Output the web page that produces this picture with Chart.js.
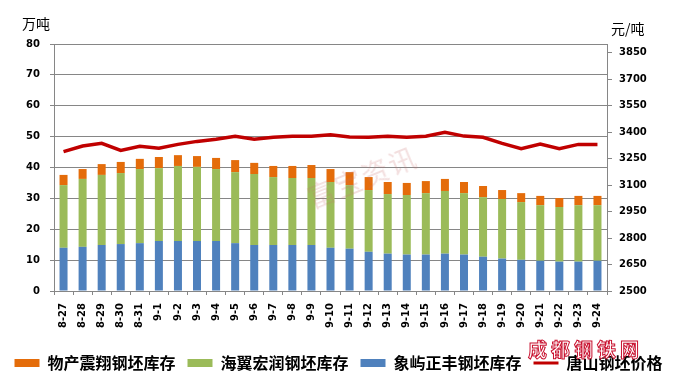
<!DOCTYPE html>
<html><head><meta charset="utf-8">
<script src="https://cdn.jsdelivr.net/npm/chart.js@4/dist/chart.umd.min.js"></script>
<style>
html,body{margin:0;padding:0;background:#fff;overflow:hidden;}
#wrap{position:relative;width:677px;height:375px;overflow:hidden;}
canvas{display:block;}
.unit{position:absolute;font-family:"Noto Sans CJK SC";font-size:14px;color:#000;line-height:1;white-space:nowrap;}
.wm{position:absolute;left:301px;top:180px;font-family:"Noto Sans CJK SC";font-size:27px;color:rgba(200,110,110,0.22);transform:rotate(-22deg);transform-origin:left top;white-space:nowrap;pointer-events:none;letter-spacing:2px;}
.logo{position:absolute;left:528px;top:339px;font-family:"Noto Sans CJK SC";font-weight:bold;font-size:19px;color:#fff;-webkit-text-stroke:1px #c8102e;letter-spacing:4px;line-height:1.1;white-space:nowrap;}
</style></head><body>
<div id="wrap">
<canvas id="c" width="677" height="375"></canvas>
<div class="unit" style="left:22px;top:16px;">万吨</div>
<div class="unit" style="left:611px;top:21px;">元/吨</div>
<div class="wm">富宝资讯</div>
<div class="logo">成都钢铁网</div>
</div>
<script>
const categories = ['8-27','8-28','8-29','8-30','8-31','9-1','9-2','9-3','9-4','9-5','9-6','9-7','9-8','9-9','9-10','9-11','9-12','9-13','9-14','9-15','9-16','9-17','9-18','9-19','9-20','9-21','9-22','9-23','9-24'];
const xiangyu = [14.0,14.3,14.9,15.2,15.5,16.2,16.2,16.2,16.2,15.5,14.9,14.9,14.9,14.9,14.0,13.7,12.7,12.1,11.8,11.8,12.1,11.8,11.1,10.5,10.1,9.8,9.5,9.5,9.8];
const haiyi = [20.3,22.0,22.7,23.0,24.0,23.6,24.3,24.0,23.3,23.0,23.0,22.0,21.7,21.7,21.3,20.6,20.0,19.3,19.3,19.9,20.3,19.9,19.3,19.3,18.7,18.0,17.7,18.3,18.0];
const wuchan = [3.3,3.2,3.5,3.6,3.3,3.6,3.5,3.5,3.6,3.9,3.6,3.6,3.9,4.2,4.2,4.2,4.2,3.9,3.9,3.9,3.9,3.6,3.6,2.9,2.9,3.0,2.9,3.0,3.0];
const price = [3290,3322,3337,3297,3320,3309,3331,3348,3360,3377,3360,3371,3377,3377,3386,3373,3371,3377,3371,3377,3399,3378,3371,3337,3307,3333,3307,3331,3331];
const leftTicks = {min:0, max:80, step:10};
const rightRange = {min:2500, max:3900};
const rightTickValues = [2500,2650,2800,2950,3100,3250,3400,3550,3700,3850];

const AXIS = '#868686';
const tickFont = {family:'DejaVu Sans', size:10, weight:'bold'};
const legendRank = [2,1,0,3];

const lineLegendPlugin = {
  id:'lineLegend',
  afterDraw(chart){
    const lg = chart.legend;
    if(!lg || !lg.legendItems) return;
    lg.legendItems.forEach((it,i)=>{
      if(it.datasetIndex===3){
        const hb = lg.legendHitBoxes[i];
        const y = hb.top + hb.height/2;
        const ctx = chart.ctx;
        ctx.save();
        ctx.strokeStyle = '#C00000';
        ctx.lineWidth = 3;
        ctx.beginPath();
        ctx.moveTo(hb.left, y);
        ctx.lineTo(hb.left+25, y);
        ctx.stroke();
        ctx.restore();
      }
    });
  }
};

new Chart(document.getElementById('c'), {
  type:'bar',
  data:{
    labels:categories,
    datasets:[
      {label:'象屿正丰钢坯库存', data:xiangyu, backgroundColor:'#4F81BD', yAxisID:'y', stack:'s', barPercentage:0.42, categoryPercentage:1, order:1},
      {label:'海翼宏润钢坯库存', data:haiyi, backgroundColor:'#9BBB59', yAxisID:'y', stack:'s', barPercentage:0.42, categoryPercentage:1, order:1},
      {label:'物产震翔钢坯库存', data:wuchan, backgroundColor:'#E46C0A', yAxisID:'y', stack:'s', barPercentage:0.42, categoryPercentage:1, order:1},
      {type:'line', label:'唐山钢坯价格', data:price, borderColor:'#C00000', backgroundColor:'#C00000', borderWidth:3.5, pointRadius:0, tension:0, yAxisID:'y1', order:0}
    ]
  },
  options:{
    responsive:false,
    animation:false,
    layout:{padding:{top:44, left:0, right:0, bottom:-6}},
    plugins:{
      tooltip:{enabled:false},
      legend:{
        position:'bottom',
        labels:{
          font:{family:'Noto Sans CJK SC', size:16, weight:'bold'},
          color:'#000',
          boxWidth:25, boxHeight:8, padding:12,
          sort:(a,b)=>legendRank[a.datasetIndex]-legendRank[b.datasetIndex],
          generateLabels:(chart)=>{
            const items = Chart.defaults.plugins.legend.labels.generateLabels(chart);
            items.forEach(it=>{
              it.lineWidth = 0;
              it.strokeStyle = 'rgba(0,0,0,0)';
              if(it.datasetIndex===3){ it.fillStyle='rgba(0,0,0,0)'; }
            });
            return items;
          }
        }
      }
    },
    scales:{
      x:{
        stacked:true,
        offset:true,
        grid:{display:true, drawOnChartArea:false, offset:true, color:AXIS, tickLength:4},
        border:{color:AXIS},
        ticks:{font:tickFont, color:'#000', minRotation:90, maxRotation:90, padding:8, autoSkip:false},
        afterFit:(s)=>{ s.height = 52; }
      },
      y:{
        position:'left', stacked:true,
        min:leftTicks.min, max:leftTicks.max,
        ticks:{stepSize:leftTicks.step, font:tickFont, color:'#000', padding:10},
        grid:{color:AXIS, tickLength:4},
        border:{color:AXIS},
        afterFit:(s)=>{ s.width = 54; }
      },
      y1:{
        position:'right',
        min:rightRange.min, max:rightRange.max,
        afterBuildTicks:(s)=>{ s.ticks = rightTickValues.map(v=>({value:v})); },
        ticks:{font:tickFont, color:'#000', padding:7, callback:(v)=>String(v)},
        grid:{drawOnChartArea:false, color:AXIS, tickLength:5},
        border:{color:AXIS},
        afterFit:(s)=>{ s.width = 70; }
      }
    }
  },
  plugins:[lineLegendPlugin]
});
</script>
</body></html>
